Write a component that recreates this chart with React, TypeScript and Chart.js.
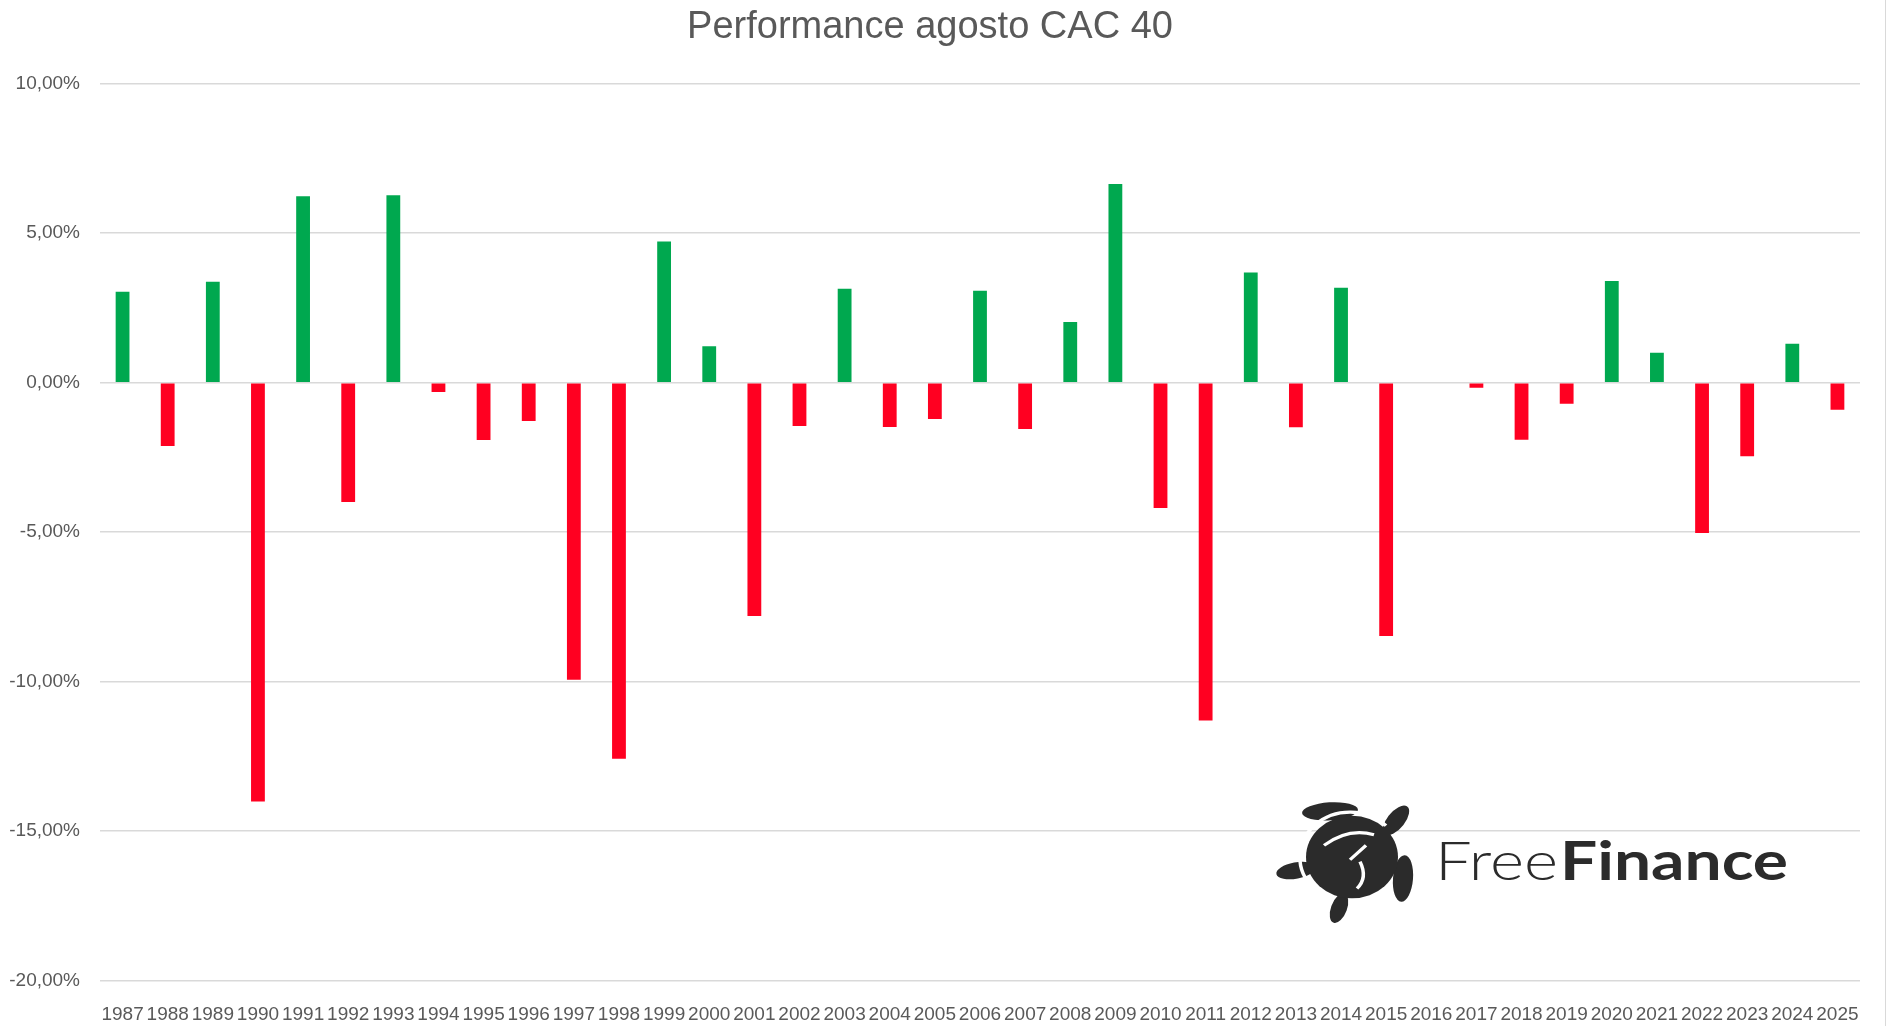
import React, { useEffect, useRef } from "react";
import { Chart, registerables } from "chart.js";

Chart.register(...registerables);

const TITLE = "Performance agosto CAC 40";

const years = [
  "1987", "1988", "1989", "1990", "1991", "1992", "1993", "1994", "1995", "1996",
  "1997", "1998", "1999", "2000", "2001", "2002", "2003", "2004", "2005", "2006",
  "2007", "2008", "2009", "2010", "2011", "2012", "2013", "2014", "2015", "2016",
  "2017", "2018", "2019", "2020", "2021", "2022", "2023", "2024", "2025",
];

const augustPerformance = [
  3.04, -2.12, 3.37, -14.01, 6.23, -3.99, 6.27, -0.31, -1.92, -1.28,
  -9.94, -12.58, 4.72, 1.22, -7.8, -1.45, 3.14, -1.48, -1.22, 3.07,
  -1.55, 2.03, 6.64, -4.19, -11.3, 3.68, -1.49, 3.17, -8.47, 0,
  -0.17, -1.91, -0.71, 3.4, 1.0, -5.03, -2.46, 1.3, -0.91,
];

const yMin = -20;
const yMax = 10;
const yStep = 5;

const GREEN = "#00A84F";
const RED = "#FF0021";
const TEXT = "#595959";
const GRID = "#D9D9D9";
const W = 1886;
const H = 1026;

function Logo() {
  const c = "#2b2b2b";
  return (
    <svg
      width={W}
      height={H}
      style={{ position: "absolute", left: 0, top: 0, pointerEvents: "none" }}
    >
      <g transform="matrix(1 0 0 0.897 0 38.1)">
        {/* flippers */}
        <ellipse cx={1330} cy={862} rx={28} ry={10} transform="rotate(-4 1330 862)" fill={c} />
        <ellipse cx={1396} cy={872} rx={19} ry={9} transform="rotate(-55 1396 872)" fill={c} />
        <ellipse cx={1296} cy={928} rx={20} ry={9} transform="rotate(-12 1296 928)" fill={c} />
        <ellipse cx={1403} cy={937} rx={10} ry={26} transform="rotate(4 1403 937)" fill={c} />
        <ellipse cx={1339} cy={970} rx={8} ry={17} transform="rotate(18 1339 970)" fill={c} />
        {/* shell */}
        <circle cx={1352} cy={913} r={46} fill={c} />
        <path d="M 1314 948 A 44 44 0 0 1 1386 878" stroke="#fff" strokeWidth={3.5} fill="none" />
        <path d="M 1324 900 Q 1348 880 1374 888" stroke="#fff" strokeWidth={3.5} fill="none" />
        <path d="M 1366 900 L 1350 916 M 1360 918 Q 1368 936 1357 948" stroke="#fff" strokeWidth={3.5} fill="none" />
      </g>
      <text
        x={1435}
        y={880}
        textLength={123}
        lengthAdjust="spacingAndGlyphs"
        fontFamily="Lato, 'Open Sans', sans-serif"
        fontWeight={300}
        fontSize={54}
        fill={c}
      >
        Free
      </text>
      <text
        x={1560}
        y={880}
        textLength={228}
        lengthAdjust="spacingAndGlyphs"
        fontFamily="Lato, 'Open Sans', sans-serif"
        fontWeight={700}
        fontSize={54}
        fill={c}
      >
        Finance
      </text>
    </svg>
  );
}

export default function App() {
  const canvasRef = useRef<HTMLCanvasElement>(null);

  useEffect(() => {
    document.body.style.margin = "0";
    const canvas = canvasRef.current;
    if (!canvas) return;
    const chart = new Chart(canvas, {
      type: "bar",
      data: {
        labels: years,
        datasets: [
          {
            data: augustPerformance,
            backgroundColor: augustPerformance.map((v) => (v >= 0 ? GREEN : RED)),
            borderWidth: 0,
            barPercentage: 0.306,
            categoryPercentage: 1,
          },
        ],
      },
      options: {
        animation: false,
        responsive: false,
        devicePixelRatio: 1,
        layout: { padding: { left: 0, right: 26, top: 0, bottom: 0 } },
        plugins: {
          legend: { display: false },
          tooltip: { enabled: false },
          title: {
            display: true,
            text: TITLE,
            color: TEXT,
            font: { family: "'Liberation Sans', Arial, sans-serif", size: 38, weight: "normal" },
            padding: { top: 5, bottom: 33 },
          },
        },
        scales: {
          x: {
            grid: { display: false },
            border: { display: false },
            ticks: {
              color: TEXT,
              font: { family: "'Liberation Sans', Arial, sans-serif", size: 19 },
              maxRotation: 0,
              minRotation: 0,
              autoSkip: false,
              padding: 15,
            },
            afterFit: (s: any) => {
              s.height = H - 980.7;
            },
          },
          y: {
            min: yMin,
            max: yMax,
            grid: { color: GRID, lineWidth: 1.5, drawTicks: false },
            border: { display: false },
            ticks: {
              stepSize: yStep,
              color: TEXT,
              font: { family: "'Liberation Sans', Arial, sans-serif", size: 19 },
              padding: 20,
              callback: (v: any) => Number(v).toFixed(2).replace(".", ",") + "%",
            },
            afterFit: (s: any) => {
              s.width = 100;
            },
          },
        },
      },
    });
    return () => chart.destroy();
  }, []);

  return (
    <div style={{ position: "relative", width: W, height: H, background: "#fff", overflow: "hidden" }}>
      <canvas ref={canvasRef} width={W} height={H} style={{ display: "block" }} />
      <Logo />
      <div
        style={{
          position: "absolute",
          left: W - 1,
          top: 0,
          width: 1,
          height: H,
          background: GRID,
        }}
      />
    </div>
  );
}
